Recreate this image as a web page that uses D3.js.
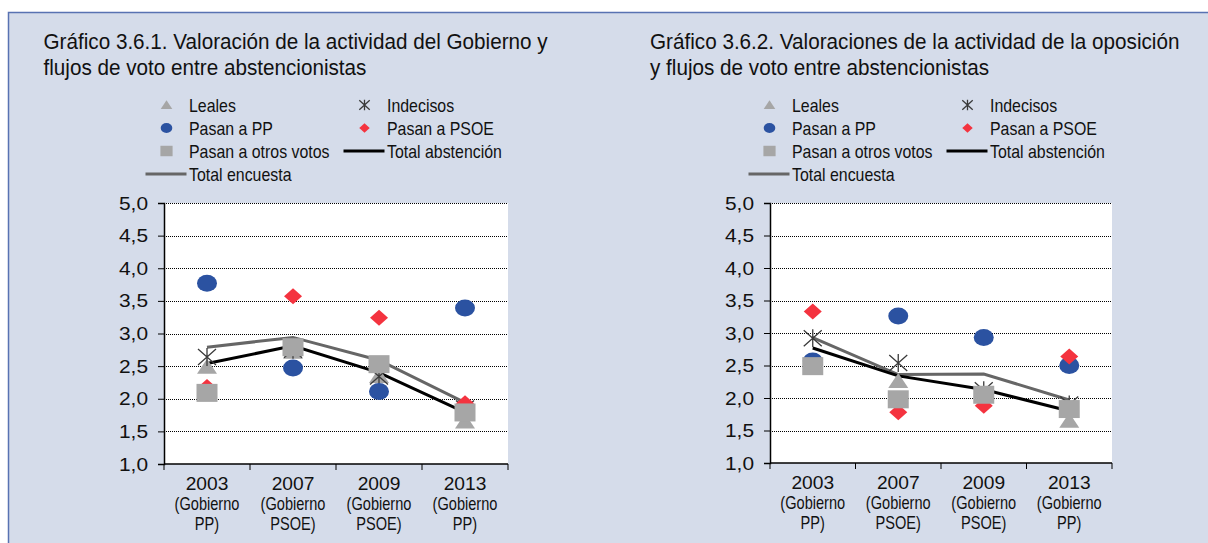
<!DOCTYPE html>
<html>
<head>
<meta charset="utf-8">
<script src="https://cdn.jsdelivr.net/npm/d3@7"></script>
<style>
  body { margin: 0; background: #fff; }
  text { font-family: "Liberation Sans", Arial, sans-serif; fill: #111; }
</style>
</head>
<body>
<div id="grafico"></div>
<script>
const WIDTH = 1208;
const HEIGHT = 543;

// categorias y etiquetas
const years = ["2003", "2007", "2009", "2013"];
const gobiernos = ["PP", "PSOE", "PSOE", "PP"];
const yTicks = [1.0, 1.5, 2.0, 2.5, 3.0, 3.5, 4.0, 4.5, 5.0];

// Grafico 3.6.1 (Gobierno)
const gobLeales     = [2.49, 2.72, 2.35, 1.65];
const gobIndecisos  = [2.64, 2.75, 2.34, 1.85];
const gobPP         = [3.77, 2.47, 2.11, 3.39];
const gobPSOE       = [2.18, 3.57, 3.24, 1.93];
const gobOtros      = [2.09, 2.79, 2.53, 1.79];
const gobTotalAbst  = [2.54, 2.81, 2.40, 1.79];
const gobTotalEnc   = [2.79, 2.94, 2.59, 1.94];

// Grafico 3.6.2 (oposicion)
const opoLeales     = [2.50, 2.26, 2.05, 1.65];
const opoIndecisos  = [2.92, 2.54, 2.12, 1.90];
const opoPP         = [2.57, 3.26, 2.93, 2.50];
const opoPSOE       = [3.33, 1.78, 1.88, 2.64];
const opoOtros      = [2.49, 1.98, 2.05, 1.83];
const opoTotalAbst  = [2.77, 2.34, 2.13, 1.80];
const opoTotalEnc   = [2.93, 2.36, 2.37, 1.97];

const legendLabels = ["Leales", "Indecisos", "Pasan a PP", "Pasan a PSOE",
                      "Pasan a otros votos", "Total abstención", "Total encuesta"];

const BLUE = "#2b52a1";
const RED = "#f4333f";
const GREY = "#a6a6a6";
const DARK = "#3a3a3a";

let svg = d3.select("#grafico")
    .append("svg")
    .attr("width", WIDTH)
    .attr("height", HEIGHT);

svg.append("rect")
    .attr("x", 8.5)
    .attr("y", 12.5)
    .attr("width", WIDTH + 10)
    .attr("height", HEIGHT)
    .attr("fill", "#d5dcea")
    .attr("stroke", "#5872b2")
    .attr("stroke-width", 1.5);

// texto con compresion horizontal (la fuente original es estrecha)
function label(g, x, y, str, size, sx, anchor) {
    return g.append("text")
        .attr("transform", `translate(${x},${y}) scale(${sx},1)`)
        .attr("text-anchor", anchor || "start")
        .style("font-size", size + "px")
        .text(str);
}

function marker(g, type, x, y, s) {
    s = s || 1;
    switch (type) {
        case "triangle":
            g.append("path")
                .attr("d", `M${x},${y - 8 * s}L${x + 10 * s},${y + 7 * s}L${x - 10 * s},${y + 7 * s}Z`)
                .attr("fill", GREY);
            break;
        case "star":
            g.append("path")
                .attr("d", `M${x - 9 * s},${y - 8 * s}L${x + 9 * s},${y + 8 * s}M${x + 9 * s},${y - 8 * s}L${x - 9 * s},${y + 8 * s}M${x},${y - 9 * s}L${x},${y + 9 * s}`)
                .attr("stroke", DARK)
                .attr("stroke-width", 1.3)
                .attr("fill", "none");
            break;
        case "circle":
            g.append("ellipse")
                .attr("cx", x).attr("cy", y)
                .attr("rx", 10 * s).attr("ry", 8.5 * s)
                .attr("fill", BLUE);
            break;
        case "diamond":
            g.append("path")
                .attr("d", `M${x},${y - 8 * s}L${x + 9 * s},${y}L${x},${y + 8 * s}L${x - 9 * s},${y}Z`)
                .attr("fill", RED);
            break;
        case "square":
            g.append("rect")
                .attr("x", x - 10.5 * s).attr("y", y - 9 * s)
                .attr("width", 21 * s).attr("height", 18 * s)
                .attr("fill", GREY);
            break;
    }
}

function drawPanel(opt) {
    let g = svg.append("g");

    // titulo
    opt.title.forEach((t, i) => {
        label(g, opt.titleX, 49 + i * 26, t, 22, 0.94);
    });

    // leyenda
    let lx = opt.legendX;
    let lx2 = lx + 198;
    let rows = [
        [{ type: "triangle", label: legendLabels[0], x: lx }, { type: "star", label: legendLabels[1], x: lx2 }],
        [{ type: "circle", label: legendLabels[2], x: lx }, { type: "diamond", label: legendLabels[3], x: lx2 }],
        [{ type: "square", label: legendLabels[4], x: lx }, { type: "lineBlack", label: legendLabels[5], x: lx2 }],
        [{ type: "lineGrey", label: legendLabels[6], x: lx }]
    ];
    rows.forEach((row, r) => {
        let y = 105 + r * 23;
        row.forEach(item => {
            if (item.type === "lineBlack") {
                g.append("line").attr("x1", item.x - 21).attr("x2", item.x + 20)
                    .attr("y1", y).attr("y2", y)
                    .attr("stroke", "#000").attr("stroke-width", 3);
            } else if (item.type === "lineGrey") {
                g.append("line").attr("x1", item.x - 21).attr("x2", item.x + 20)
                    .attr("y1", y).attr("y2", y)
                    .attr("stroke", "#666").attr("stroke-width", 3);
            } else {
                marker(g, item.type, item.x, y, 0.58);
            }
            label(g, item.x + 22.5, y + 6.8, item.label, 18.6, 0.855);
        });
    });

    // escalas
    let x = d3.scaleBand()
        .domain(years)
        .range([opt.left, opt.right]);
    let y = d3.scaleLinear()
        .domain([1, 5])
        .range([opt.bottom, opt.top]);

    g.append("rect")
        .attr("x", opt.left)
        .attr("y", opt.top)
        .attr("width", opt.right - opt.left)
        .attr("height", opt.bottom - opt.top)
        .attr("fill", "#fff");

    // rejilla
    g.selectAll(".grid")
        .data(yTicks.slice(1))
        .enter()
        .append("line")
        .attr("x1", opt.left)
        .attr("x2", opt.right)
        .attr("y1", d => Math.round(y(d)) + 0.5)
        .attr("y2", d => Math.round(y(d)) + 0.5)
        .attr("stroke", "#000")
        .attr("stroke-width", 1)
        .attr("stroke-dasharray", "1,1");

    // eje Y
    let yAxis = g.append("g")
        .attr("transform", `translate(${opt.left},0)`)
        .call(d3.axisLeft(y).tickValues(yTicks).tickSize(6).tickPadding(10)
            .tickFormat(d => d3.format(".1f")(d).replace(".", ",")));
    yAxis.selectAll("text")
        .style("font-size", "19px")
        .style("font-family", "'Liberation Sans', Arial, sans-serif")
        .attr("fill", "#111")
        .attr("x", -16 / 1.1)
        .attr("transform", "scale(1.1,1)");
    yAxis.select(".domain").attr("stroke-width", 1.5);

    // eje X
    let xAxis = g.append("g")
        .attr("transform", `translate(0,${opt.bottom})`)
        .call(d3.axisBottom(x).tickSize(0).tickFormat(""));
    xAxis.select(".domain").attr("d", `M${opt.left},0H${opt.right}`).attr("stroke-width", 1.5);
    let bounds = years.map(d => x(d)).concat([opt.right]);
    xAxis.selectAll(".sep")
        .data(bounds)
        .enter()
        .append("line")
        .attr("x1", d => d).attr("x2", d => d)
        .attr("y1", 0).attr("y2", 6)
        .attr("stroke", "#000");

    years.forEach((yr, i) => {
        let cx = x(yr) + x.bandwidth() / 2;
        label(xAxis, cx, 25.5, yr, 17.8, 1.08, "middle");
        label(xAxis, cx, 45.5, "(Gobierno", 17.8, 0.82, "middle");
        label(xAxis, cx, 65.5, gobiernos[i] + ")", 17.8, 0.82, "middle");
    });

    let cx = d => x(d) + x.bandwidth() / 2;
    let line = d3.line()
        .x((d, i) => cx(years[i]))
        .y(d => y(d));

    g.append("path")
        .datum(opt.totalEnc)
        .attr("d", line)
        .attr("fill", "none")
        .attr("stroke", "#666")
        .attr("stroke-width", 3);
    g.append("path")
        .datum(opt.totalAbst)
        .attr("d", line)
        .attr("fill", "none")
        .attr("stroke", "#000")
        .attr("stroke-width", 3);

    let series = [
        ["triangle", opt.leales],
        ["star", opt.indecisos],
        ["circle", opt.pp],
        ["diamond", opt.psoe],
        ["square", opt.otros]
    ];
    series.forEach(s => {
        s[1].forEach((v, i) => marker(g, s[0], cx(years[i]), y(v), 1));
    });
}

drawPanel({
    title: ["Gráfico 3.6.1. Valoración de la actividad del Gobierno y",
            "flujos de voto entre abstencionistas"],
    titleX: 43.5,
    legendX: 166.5,
    left: 164, right: 508, top: 203, bottom: 464,
    leales: gobLeales, indecisos: gobIndecisos, pp: gobPP, psoe: gobPSOE, otros: gobOtros,
    totalAbst: gobTotalAbst, totalEnc: gobTotalEnc
});

drawPanel({
    title: ["Gráfico 3.6.2. Valoraciones de la actividad de la oposición",
            "y flujos de voto entre abstencionistas"],
    titleX: 650,
    legendX: 769.5,
    left: 770, right: 1112, top: 203, bottom: 463,
    leales: opoLeales, indecisos: opoIndecisos, pp: opoPP, psoe: opoPSOE, otros: opoOtros,
    totalAbst: opoTotalAbst, totalEnc: opoTotalEnc
});
</script>
</body>
</html>
